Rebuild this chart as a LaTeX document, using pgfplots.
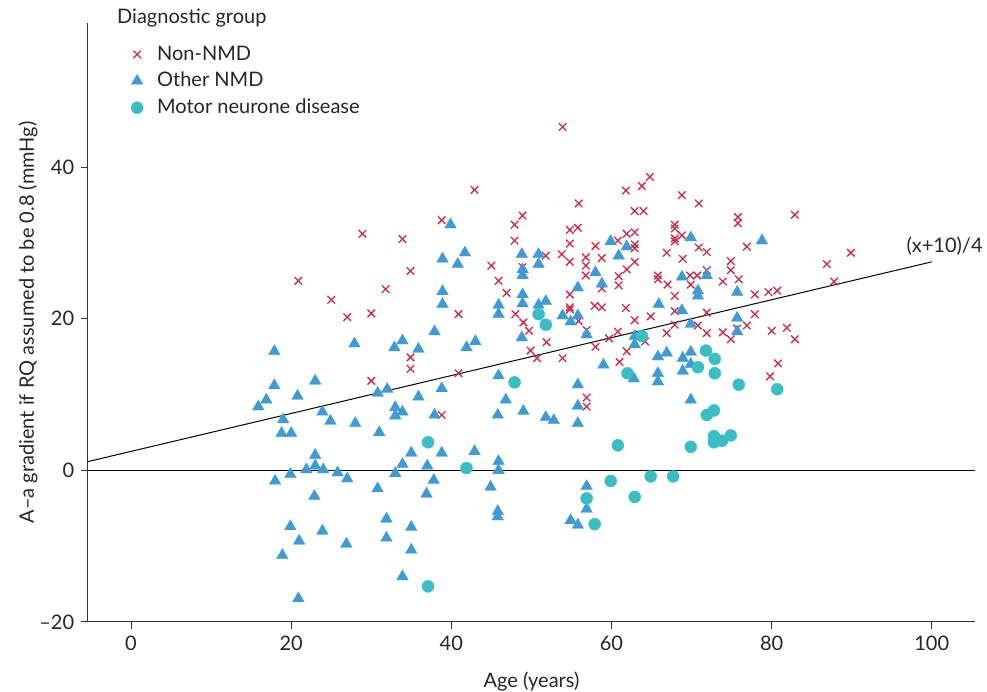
\documentclass[border=0pt]{standalone}
\usepackage{pgfplots}
\pgfplotsset{compat=1.18}
\usepackage{fontspec}
\setmainfont{Lato}
\definecolor{nonnmd}{RGB}{214,40,70}
\definecolor{othernmd}{RGB}{63,155,214}
\definecolor{mnd}{RGB}{58,190,195}
\definecolor{axisgray}{RGB}{50,50,50}
\begin{document}
\fontsize{20}{23}\selectfont
\begin{tikzpicture}
\begin{axis}[
  scale only axis, width=887pt, height=599pt,
  xmin=-5.37, xmax=105.4, ymin=-20, ymax=59,
  axis x line*=bottom, axis y line*=left,
  axis line style={color=axisgray, line width=1pt},
  xtick={0,20,40,60,80,100}, xticklabels={0,20,40,60,80,100},
  ytick={-20,0,20,40}, yticklabels={–20,0,20,40},
  tick align=outside, major tick length=7pt,
  tick style={color=axisgray, line width=1pt},
  tick label style={font=\fontsize{20}{23}\selectfont, text=black!85},
  /pgf/number format/assume math mode=true,
  clip=false,
  xlabel={Age (years)},
  ylabel={A–a gradient if RQ assumed to be 0.8 (mmHg)},
  xlabel style={at={([yshift=-60pt]axis description cs:0.5,0)}, anchor=center, font=\fontsize{20}{23}\selectfont, text=black!85},
  ylabel style={at={([xshift=-60pt]axis description cs:0,0.5)}, anchor=center, font=\fontsize{20}{23}\selectfont, text=black!85},
  legend style={draw=none, fill=none, at={(axis description cs:0.045,0.969)}, anchor=north west,
    font=\fontsize{20}{23}\selectfont, row sep=5pt, column sep=12pt, text=black!85},
  legend cell align=left,
]
\addplot[only marks, mark=x, mark size=5.3pt, color=nonnmd, mark options={line width=1.3pt}] table {
20.9 25.0
25.0 22.5
27.0 20.2
28.9 31.2
30.0 20.7
30.0 11.8
31.8 23.9
33.9 30.5
34.9 26.3
34.9 14.9
34.9 13.4
38.8 33.0
38.8 7.3
40.9 20.6
40.9 12.8
42.9 37.0
45.0 27.0
45.9 25.0
46.9 23.4
47.9 32.4
47.9 30.3
48.0 20.6
48.9 33.6
48.9 26.8
49.0 19.5
49.7 18.4
49.9 15.8
50.7 14.8
51.8 28.3
51.9 16.9
53.8 28.5
53.9 45.3
53.9 14.8
54.8 31.7
54.8 29.9
54.8 27.5
54.8 23.2
54.8 21.5
54.8 21.2
55.8 32.0
55.9 35.2
55.9 19.7
56.8 28.1
56.8 27.0
56.8 25.7
56.9 18.5
56.9 9.6
56.9 8.4
57.9 21.7
58.0 29.6
58.0 16.3
58.8 28.0
58.8 24.0
58.8 21.5
59.7 17.4
60.8 30.3
60.8 18.3
60.9 25.6
60.9 24.4
61.0 14.3
61.8 36.9
61.8 21.4
61.9 31.2
61.9 26.5
61.9 15.7
62.9 34.2
62.9 31.4
62.9 29.8
62.9 29.3
62.9 27.5
62.9 19.8
63.8 37.5
64.0 34.2
64.2 17.0
64.8 38.7
64.9 20.3
65.8 25.7
65.8 25.2
66.9 28.7
66.9 18.1
67.0 24.5
67.9 32.4
67.9 31.9
67.9 30.6
67.9 30.2
67.9 23.0
67.9 21.0
67.9 19.2
68.8 36.3
68.8 31.0
68.9 27.9
69.8 25.7
69.9 24.5
70.7 25.7
70.8 19.1
70.9 35.2
70.9 29.4
71.9 28.8
71.9 26.4
71.9 20.8
71.9 18.1
73.9 24.9
73.9 18.2
74.9 27.6
74.9 26.4
74.9 17.3
75.7 18.7
75.8 33.4
75.8 32.6
75.9 25.2
76.9 29.5
76.9 19.1
77.9 23.2
77.9 20.6
79.6 23.5
79.8 12.4
80.0 18.4
80.7 23.7
80.8 14.1
81.9 18.8
82.9 33.7
82.9 17.3
86.9 27.2
87.8 24.9
89.9 28.7
};
\addlegendentry{Non-NMD}
\addplot[only marks, mark=triangle*, mark size=6.8pt, color=othernmd, mark options={fill=othernmd, draw=othernmd, line width=0.2pt}] table {
15.9 8.4
16.9 9.3
17.9 15.7
17.9 11.2
18.0 -1.4
18.8 4.9
18.9 -11.2
19.0 6.7
19.9 -0.5
19.9 -7.4
20.0 4.9
20.8 9.8
20.9 -16.9
21.0 -9.3
21.9 0.1
22.9 -3.4
23.0 11.8
23.0 2.0
23.0 0.6
23.9 7.7
23.9 -8.0
24.0 0.1
24.9 6.5
25.8 -0.3
26.9 -9.7
27.0 -1.1
27.9 16.7
28.0 6.2
30.8 10.2
30.8 -2.4
31.0 5.0
31.9 -6.4
31.9 -8.9
32.0 10.7
32.9 16.2
33.0 8.3
33.0 7.2
33.0 -0.4
33.9 17.1
33.9 7.7
33.9 0.8
33.9 -14.0
35.0 2.3
35.0 -7.5
35.0 -10.5
35.9 16.0
35.9 9.7
36.9 -3.1
37.0 0.6
37.8 -1.3
37.9 18.3
37.9 7.3
38.8 10.8
38.8 2.3
38.9 27.9
38.9 23.6
38.9 21.9
39.9 32.4
40.8 27.2
41.7 28.7
41.9 16.2
42.9 2.5
43.0 17.0
44.9 -2.2
45.8 7.3
45.8 -5.4
45.8 -6.1
45.9 21.8
45.9 20.6
45.9 12.5
45.9 1.2
45.9 0.0
46.8 9.3
48.8 28.5
48.9 26.5
48.9 25.7
48.9 23.2
48.9 22.0
48.8 17.5
49.0 7.8
50.9 28.5
50.9 27.2
50.9 21.8
51.8 22.3
51.8 7.0
52.8 6.6
53.9 20.4
54.9 19.6
54.9 -6.6
55.8 24.1
55.8 20.4
55.8 11.3
55.8 8.5
55.8 6.2
55.8 -7.2
56.9 17.9
56.9 -2.1
56.9 -5.1
58.0 26.1
58.8 24.6
59.0 13.9
59.9 30.2
60.9 28.3
61.9 29.5
62.8 12.1
62.9 17.7
62.9 16.6
65.8 15.0
65.8 12.8
65.8 11.7
65.9 21.9
66.9 15.5
68.8 25.5
68.8 21.1
68.9 14.8
68.9 13.1
69.9 30.7
69.9 19.3
69.9 15.6
69.9 14.0
69.9 9.3
70.8 23.7
70.8 23.0
71.9 25.7
75.7 23.5
75.7 20.1
75.7 18.3
78.8 30.3
};
\addlegendentry{Other NMD}
\addplot[only marks, mark=*, mark size=6pt, color=mnd, mark options={fill=mnd, draw=none}] table {
37.1 3.7
37.1 -15.3
41.9 0.3
47.9 11.6
50.9 20.6
51.8 19.2
56.9 -3.7
57.9 -7.1
59.9 -1.4
60.8 3.3
62.0 12.8
62.9 -3.5
63.8 17.7
64.9 -0.8
67.7 -0.8
69.9 3.1
70.8 13.6
71.8 15.8
71.9 7.3
72.8 7.9
72.8 4.5
72.8 3.7
72.9 14.7
72.9 12.8
73.8 3.9
74.9 4.6
75.9 11.3
80.7 10.7
};
\addlegendentry{Motor neurone disease}
\addplot[black, line width=1pt, forget plot] coordinates {(-5.37,0) (105.4,0)};
\addplot[black, line width=1pt, forget plot] coordinates {(-5.37,1.1575) (100,27.5)};
\node[text=black!85, font=\fontsize{20}{23}\selectfont] at (axis cs:101.6,29.6) {(x+10)/4};
\node[anchor=west, inner sep=0pt, text=black!85, font=\fontsize{20}{23}\selectfont] at (axis description cs:0.0327,1.0083) {Diagnostic group};
\end{axis}
\pgfresetboundingbox
\path[use as bounding box] (-88pt,-70pt) rectangle (899pt,622pt);
\end{tikzpicture}
\end{document}
